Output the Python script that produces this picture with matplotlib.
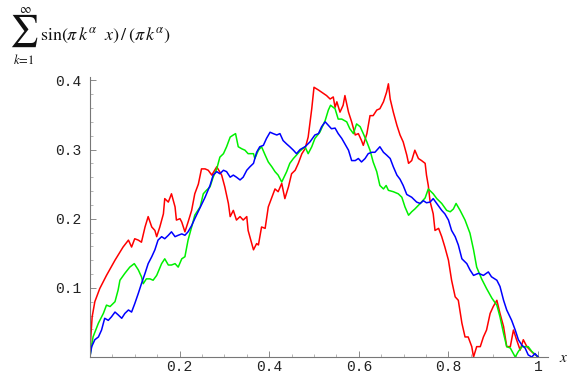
import matplotlib
matplotlib.use("Agg")
import matplotlib.pyplot as plt
from matplotlib.ticker import FixedLocator, MultipleLocator

# partial sums, (x, value) pairs
red_pts = [
    (0, 0), (0.002, 0.029), (0.005, 0.058), (0.011, 0.080), (0.022, 0.099),
    (0.037, 0.118), (0.056, 0.140), (0.074, 0.159), (0.086, 0.169), (0.093, 0.159),
    (0.100, 0.171), (0.108, 0.169), (0.115, 0.166), (0.123, 0.188), (0.130, 0.203),
    (0.138, 0.188), (0.145, 0.183), (0.149, 0.174), (0.156, 0.188), (0.164, 0.207),
    (0.167, 0.229), (0.175, 0.224), (0.182, 0.236), (0.190, 0.217), (0.193, 0.198),
    (0.201, 0.200), (0.205, 0.195), (0.212, 0.181), (0.219, 0.195), (0.227, 0.212),
    (0.234, 0.236), (0.242, 0.250), (0.249, 0.272), (0.257, 0.272), (0.264, 0.270),
    (0.272, 0.263), (0.283, 0.275), (0.294, 0.263), (0.301, 0.246), (0.309, 0.222),
    (0.313, 0.203), (0.320, 0.212), (0.327, 0.198), (0.335, 0.203), (0.342, 0.198),
    (0.350, 0.203), (0.353, 0.183), (0.361, 0.164), (0.365, 0.155), (0.372, 0.164),
    (0.376, 0.162), (0.383, 0.188), (0.391, 0.186), (0.398, 0.217), (0.406, 0.231),
    (0.413, 0.243), (0.420, 0.239), (0.428, 0.251), (0.435, 0.229), (0.443, 0.246),
    (0.450, 0.265), (0.458, 0.270), (0.465, 0.280), (0.473, 0.294), (0.480, 0.301),
    (0.487, 0.318), (0.495, 0.359), (0.500, 0.390), (0.510, 0.386), (0.521, 0.381),
    (0.528, 0.378), (0.536, 0.373), (0.543, 0.376), (0.547, 0.361), (0.551, 0.369),
    (0.558, 0.354), (0.565, 0.364), (0.569, 0.378), (0.577, 0.354), (0.584, 0.340),
    (0.592, 0.321), (0.599, 0.323), (0.606, 0.313), (0.610, 0.306), (0.618, 0.323),
    (0.625, 0.349), (0.632, 0.349), (0.640, 0.357), (0.647, 0.359), (0.655, 0.369),
    (0.662, 0.383), (0.666, 0.395), (0.670, 0.373), (0.677, 0.354), (0.685, 0.335),
    (0.692, 0.321), (0.699, 0.311), (0.707, 0.292), (0.711, 0.280), (0.718, 0.284),
    (0.725, 0.299), (0.733, 0.287), (0.740, 0.284), (0.748, 0.280), (0.751, 0.263),
    (0.755, 0.248), (0.759, 0.225), (0.766, 0.207), (0.770, 0.183), (0.778, 0.186),
    (0.785, 0.174), (0.792, 0.159), (0.800, 0.140), (0.807, 0.111), (0.815, 0.087),
    (0.822, 0.082), (0.830, 0.049), (0.837, 0.029), (0.844, 0.029), (0.852, 0.015),
    (0.856, 0.0), (0.863, 0.015), (0.871, 0.015), (0.878, 0.029), (0.885, 0.039),
    (0.893, 0.063), (0.900, 0.073), (0.908, 0.082), (0.915, 0.063), (0.923, 0.044),
    (0.930, 0.015), (0.938, 0.015), (0.945, 0.039), (0.952, 0.025), (0.960, 0.010),
    (0.967, 0.025), (0.975, 0.015), (0.982, 0.010), (0.990, 0.005), (1.0, 0.0),
]

green_pts = [
    (0, 0), (0.007, 0.029), (0.019, 0.049), (0.030, 0.063), (0.037, 0.075),
    (0.045, 0.073), (0.056, 0.080), (0.063, 0.097), (0.067, 0.111), (0.078, 0.121),
    (0.089, 0.130), (0.099, 0.135), (0.108, 0.126), (0.115, 0.116), (0.119, 0.106),
    (0.126, 0.113), (0.134, 0.113), (0.141, 0.111), (0.149, 0.118), (0.160, 0.135),
    (0.167, 0.142), (0.175, 0.133), (0.182, 0.133), (0.190, 0.135), (0.197, 0.130),
    (0.205, 0.142), (0.212, 0.145), (0.219, 0.169), (0.227, 0.188), (0.234, 0.205),
    (0.246, 0.217), (0.253, 0.236), (0.260, 0.241), (0.268, 0.246), (0.275, 0.260),
    (0.283, 0.272), (0.290, 0.289), (0.298, 0.294), (0.305, 0.304), (0.313, 0.318),
    (0.320, 0.321), (0.325, 0.323), (0.331, 0.304), (0.339, 0.301), (0.346, 0.299),
    (0.353, 0.294), (0.365, 0.294), (0.368, 0.287), (0.376, 0.299), (0.383, 0.304),
    (0.391, 0.292), (0.398, 0.282), (0.406, 0.275), (0.413, 0.268), (0.420, 0.263),
    (0.428, 0.253), (0.439, 0.268), (0.446, 0.280), (0.454, 0.287), (0.461, 0.292),
    (0.469, 0.298), (0.480, 0.304), (0.487, 0.294), (0.495, 0.304), (0.502, 0.316),
    (0.513, 0.325), (0.525, 0.342), (0.532, 0.357), (0.537, 0.364), (0.547, 0.359),
    (0.554, 0.344), (0.562, 0.344), (0.573, 0.340), (0.580, 0.330), (0.588, 0.323),
    (0.595, 0.337), (0.603, 0.333), (0.610, 0.323), (0.618, 0.311), (0.625, 0.299),
    (0.632, 0.282), (0.640, 0.268), (0.647, 0.248), (0.655, 0.243), (0.661, 0.248),
    (0.666, 0.241), (0.677, 0.239), (0.688, 0.236), (0.696, 0.231), (0.703, 0.217),
    (0.711, 0.205), (0.718, 0.210), (0.725, 0.214), (0.737, 0.222), (0.748, 0.230),
    (0.755, 0.243), (0.766, 0.236), (0.774, 0.229), (0.785, 0.222), (0.796, 0.212),
    (0.804, 0.210), (0.811, 0.214), (0.817, 0.222), (0.826, 0.212), (0.837, 0.198),
    (0.848, 0.179), (0.856, 0.155), (0.863, 0.130), (0.874, 0.113), (0.885, 0.099),
    (0.897, 0.085), (0.908, 0.075), (0.915, 0.058), (0.923, 0.034), (0.930, 0.015),
    (0.938, 0.013), (0.949, 0.0), (0.956, 0.008), (0.964, 0.015), (0.971, 0.015),
    (0.978, 0.015), (0.986, 0.008), (1.0, 0.0),
]

blue_pts = [
    (0, 0), (0.004, 0.015), (0.011, 0.025), (0.019, 0.029), (0.026, 0.039),
    (0.033, 0.056), (0.041, 0.053), (0.048, 0.058), (0.056, 0.065), (0.063, 0.061),
    (0.071, 0.056), (0.078, 0.063), (0.086, 0.068), (0.093, 0.065), (0.100, 0.077),
    (0.108, 0.092), (0.115, 0.106), (0.123, 0.121), (0.130, 0.135), (0.138, 0.145),
    (0.145, 0.155), (0.152, 0.169), (0.160, 0.174), (0.167, 0.171), (0.175, 0.176),
    (0.182, 0.181), (0.190, 0.174), (0.197, 0.176), (0.205, 0.178), (0.212, 0.176),
    (0.219, 0.181), (0.227, 0.190), (0.234, 0.200), (0.246, 0.216), (0.257, 0.231),
    (0.268, 0.248), (0.275, 0.263), (0.283, 0.268), (0.290, 0.265), (0.298, 0.270),
    (0.305, 0.268), (0.313, 0.260), (0.320, 0.263), (0.327, 0.260), (0.335, 0.256),
    (0.342, 0.260), (0.350, 0.270), (0.357, 0.275), (0.365, 0.280), (0.372, 0.296),
    (0.379, 0.304), (0.387, 0.306), (0.394, 0.316), (0.402, 0.325), (0.409, 0.323),
    (0.417, 0.321), (0.424, 0.323), (0.431, 0.313), (0.439, 0.308), (0.446, 0.304),
    (0.454, 0.299), (0.461, 0.294), (0.469, 0.300), (0.480, 0.304), (0.491, 0.311),
    (0.502, 0.321), (0.510, 0.323), (0.517, 0.333), (0.525, 0.340), (0.532, 0.335),
    (0.539, 0.330), (0.547, 0.331), (0.554, 0.323), (0.562, 0.316), (0.569, 0.308),
    (0.577, 0.299), (0.584, 0.284), (0.592, 0.284), (0.599, 0.287), (0.606, 0.282),
    (0.614, 0.287), (0.621, 0.294), (0.629, 0.296), (0.636, 0.296), (0.647, 0.304),
    (0.655, 0.296), (0.662, 0.292), (0.670, 0.287), (0.677, 0.275), (0.685, 0.263),
    (0.692, 0.257), (0.699, 0.248), (0.707, 0.235), (0.718, 0.231), (0.729, 0.224),
    (0.737, 0.222), (0.744, 0.226), (0.751, 0.223), (0.759, 0.224), (0.766, 0.229),
    (0.777, 0.219), (0.785, 0.212), (0.792, 0.207), (0.800, 0.198), (0.807, 0.183),
    (0.815, 0.174), (0.822, 0.162), (0.830, 0.142), (0.841, 0.135), (0.848, 0.126),
    (0.856, 0.118), (0.867, 0.121), (0.878, 0.118), (0.889, 0.123), (0.896, 0.116),
    (0.908, 0.111), (0.915, 0.102), (0.923, 0.082), (0.930, 0.068), (0.941, 0.053),
    (0.949, 0.039), (0.956, 0.025), (0.964, 0.017), (0.971, 0.013), (0.978, 0.003),
    (0.986, 0.0), (0.993, 0.005), (1.0, 0.0),
]

x_ticks = [0.2, 0.4, 0.6, 0.8, 1.0]
x_labels = ["0.2", "0.4", "0.6", "0.8", "1"]
y_ticks = [0.1, 0.2, 0.3, 0.4]
y_labels = ["0.1", "0.2", "0.3", "0.4"]

plt.rcParams["mathtext.fontset"] = "stix"

fig = plt.figure(figsize=(5.69, 3.76), dpi=100)
ax = fig.add_axes([0.158, 0.0505, 0.805, 0.745])

for pts, col in [(red_pts, "#ff0000"), (green_pts, "#00f000"), (blue_pts, "#0000ff")]:
    xs = [p[0] for p in pts]
    ys = [p[1] for p in pts]
    ax.plot(xs, ys, color=col, linewidth=1.1, solid_joinstyle="round")

ax.set_xlim(0, 1.022)
ax.set_ylim(0, 0.405)

for s in ["top", "right"]:
    ax.spines[s].set_visible(False)
for s in ["left", "bottom"]:
    ax.spines[s].set_color("#777777")
    ax.spines[s].set_linewidth(0.8)

ax.xaxis.set_major_locator(FixedLocator(x_ticks))
ax.yaxis.set_major_locator(FixedLocator(y_ticks))
ax.set_xticklabels(x_labels)
ax.set_yticklabels(y_labels)
ax.xaxis.set_minor_locator(MultipleLocator(0.05))
ax.yaxis.set_minor_locator(MultipleLocator(0.02))
ax.tick_params(which="major", direction="in", length=4, width=0.6, color="#777777",
               labelsize=10.5, labelcolor="#222222")
ax.tick_params(axis="y", which="major", pad=6)
ax.tick_params(axis="x", which="major", pad=2)
ax.tick_params(which="minor", direction="in", length=2.5, width=0.5, color="#999999")
for lab in ax.get_xticklabels() + ax.get_yticklabels():
    lab.set_family("Liberation Mono")

# y label: big sum sign with limits, then the summand
fig.text(0.042, 0.918, "\u2211", family="STIXGeneral", fontsize=23,
         ha="center", va="center", color="#111111")
fig.text(0.045, 0.975, r"$\infty$", fontsize=9, ha="center", va="center", color="#111111")
fig.text(0.041, 0.84, r"$k\!=\!1$", fontsize=9, ha="center", va="center", color="#111111")
fig.text(0.299, 0.906,
         r"$\sin(\pi\, k^{\alpha}\ \ x)\,/\,(\pi\, k^{\alpha})$",
         fontsize=13, ha="right", va="center", color="#111111")
fig.text(0.983, 0.05, r"$x$", fontsize=11, ha="left", va="center", color="#111111")

fig.savefig("out.png", dpi=100)
